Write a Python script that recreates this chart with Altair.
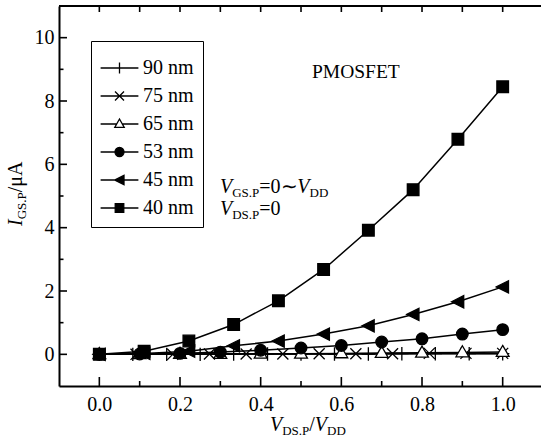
import altair as alt
import pandas as pd

# ---------------- data ----------------
series_names = ["90 nm", "75 nm", "65 nm", "53 nm", "45 nm", "40 nm"]

x_90 = [0, 0.083, 0.167, 0.25, 0.333, 0.417, 0.5, 0.583, 0.667, 0.75, 0.833, 0.917, 1.0]
y_90 = [0, 0, 0, 0, 0.01, 0.01, 0.01, 0.01, 0.01, 0.02, 0.02, 0.02, 0.02]

x_75 = [0, 0.091, 0.182, 0.273, 0.364, 0.455, 0.545, 0.636, 0.727, 0.818, 0.909, 1.0]
y_75 = [0, 0, 0, 0.01, 0.01, 0.01, 0.02, 0.02, 0.02, 0.03, 0.03, 0.03]

x_65 = [0, 0.1, 0.2, 0.3, 0.4, 0.5, 0.6, 0.7, 0.8, 0.9, 1.0]
y_65 = [0, 0, 0.01, 0.01, 0.02, 0.02, 0.03, 0.04, 0.05, 0.06, 0.07]

x_53 = [0, 0.1, 0.2, 0.3, 0.4, 0.5, 0.6, 0.7, 0.8, 0.9, 1.0]
y_53 = [0, 0.01, 0.03, 0.07, 0.13, 0.2, 0.28, 0.39, 0.49, 0.64, 0.78]

x_45 = [0, 0.111, 0.222, 0.333, 0.444, 0.556, 0.667, 0.778, 0.889, 1.0]
y_45 = [0, 0.03, 0.1, 0.27, 0.42, 0.64, 0.9, 1.26, 1.66, 2.13]

x_40 = [0, 0.111, 0.222, 0.333, 0.444, 0.556, 0.667, 0.778, 0.889, 1.0]
y_40 = [0, 0.1, 0.42, 0.94, 1.69, 2.68, 3.92, 5.2, 6.79, 8.45]

x_major = [0.0, 0.2, 0.4, 0.6, 0.8, 1.0]
x_minor = [0.1, 0.3, 0.5, 0.7, 0.9]
x_top = [0.0, 0.1, 0.2, 0.3, 0.4, 0.5, 0.6, 0.7, 0.8, 0.9, 1.0]
y_major = [0, 2, 4, 6, 8, 10]
y_minor = [1, 3, 5, 7, 9]

# ---------------- tables ----------------
rows = []
for name, xs, ys in zip(series_names,
                        [x_90, x_75, x_65, x_53, x_45, x_40],
                        [y_90, y_75, y_65, y_53, y_45, y_40]):
    for i, (xv, yv) in enumerate(zip(xs, ys)):
        rows.append({"series": name, "x": xv, "y": yv, "i": i})
df = pd.DataFrame(rows)

W, H = 482, 380
FONT = "'Liberation Serif', 'Times New Roman', Times, serif"

xscale = alt.Scale(domain=[-0.1, 1.095], nice=False, zero=False)
yscale = alt.Scale(domain=[-1, 11], nice=False, zero=False)

xaxis = alt.Axis(values=x_major, format=".1f", ticks=False, grid=False, title=None,
                 domainColor="black", domainWidth=2, labelFont=FONT, labelFontSize=20,
                 labelColor="black", labelPadding=8)
yaxis = alt.Axis(values=y_major, format="d", ticks=False, grid=False, title=None,
                 domainColor="black", domainWidth=2, labelFont=FONT, labelFontSize=20,
                 labelColor="black", labelPadding=5)

X = alt.X("x:Q", scale=xscale, axis=xaxis)
Y = alt.Y("y:Q", scale=yscale, axis=yaxis)

lines = alt.Chart(df).mark_line(color="black", strokeWidth=1.5).encode(
    x=X, y=Y, detail="series:N", order="i:Q")

marker_shapes = [
    "M-1.15,0H1.15M0,-1.15V1.15",
    "M-0.95,-0.95L0.95,0.95M-0.95,0.95L0.95,-0.95",
    "M0,-1.15L1.1,0.75L-1.1,0.75Z",
    "circle",
    "M-1.1,0L1,-1.05L1,1.05Z",
    "square",
]
fills = ["black", "black", "white", "black", "black", "black"]
strokes = ["black"] * 6

markers = alt.Chart(df).mark_point(filled=True, stroke="black", strokeWidth=1.3, size=135, opacity=1).encode(
    x=X, y=Y,
    shape=alt.Shape("series:N", scale=alt.Scale(domain=series_names, range=marker_shapes), legend=None),
    fill=alt.Fill("series:N", scale=alt.Scale(domain=series_names, range=fills), legend=None),
)

legend_paths = [
    "M-4.2,0H4.2M0,-1.2V1.2",
    "M-4.2,0H4.2M-1,-1L1,1M-1,1L1,-1",
    "M-4.2,0H-0.6M0.6,0H4.2M0,-1.1L1.05,0.75L-1.05,0.75Z",
    "M-4.2,0H4.2M1,0A1,1,0,1,1,-1,0A1,1,0,1,1,1,0Z",
    "M-4.2,0H4.2M-1.1,0L1,-1.05L1,1.05Z",
    "M-4.2,0H4.2M-0.95,-0.95H0.95V0.95H-0.95Z",
]

leg = alt.Legend(title=" ", titleFontSize=6, titlePadding=2, orient="none",
                 legendX=32, legendY=35, padding=9, strokeColor="black",
                 fillColor="white", labelFont=FONT, labelFontSize=20, labelColor="black",
                 symbolSize=81, symbolOffset=9.5, labelOffset=13.5, rowPadding=8,
                 symbolStrokeColor="black", symbolStrokeWidth=1.3, symbolOpacity=1)

legend_layer = alt.Chart(df).transform_filter("false").mark_point(
    filled=True, strokeWidth=1.3, size=81, opacity=1).encode(
    x=X, y=Y,
    shape=alt.Shape("series:N", scale=alt.Scale(domain=series_names, range=legend_paths), legend=leg),
    fill=alt.Fill("series:N", scale=alt.Scale(domain=series_names, range=fills), legend=leg),
    stroke=alt.Stroke("series:N", scale=alt.Scale(domain=series_names, range=strokes), legend=leg),
)

# ---------------- inward ticks and frame ----------------
def tick_layer(values, field, **enc):
    d = pd.DataFrame({field: values})
    if field == "x":
        e = dict(x=alt.X("x:Q", scale=xscale, axis=xaxis))
    else:
        e = dict(y=alt.Y("y:Q", scale=yscale, axis=yaxis))
    e.update(enc)
    return alt.Chart(d).mark_rule(color="black", strokeWidth=1.6).encode(**e)

ticks = [
    tick_layer(x_major, "x", y=alt.value(H), y2=alt.value(H - 9)),
    tick_layer(x_minor, "x", y=alt.value(H), y2=alt.value(H - 5)),
    tick_layer(x_top, "x", y=alt.value(0), y2=alt.value(6)),
    tick_layer(y_major, "y", x=alt.value(0), x2=alt.value(8)),
    tick_layer(y_minor, "y", x=alt.value(0), x2=alt.value(4.5)),
]
top_border = alt.Chart(pd.DataFrame({"a": [0]})).mark_rule(color="black", strokeWidth=2).encode(
    x=alt.value(0), x2=alt.value(W), y=alt.value(0))

# ---------------- text with sub-scripts ----------------
TW = {" ": 250, ".": 250, "/": 278, "=": 564, "∼": 838, "0": 500, "A": 722, "D": 722,
      "G": 722, "P": 556, "S": 556, "μ": 500, "I": 333, "V": 611}

def rich(pieces, x0, y0, angle=0):
    out = []
    cur = 0.0
    for text, size, italic, shift in pieces:
        w = sum(TW.get(c, 500) for c in text) * size / 1000.0
        if angle == 0:
            px, py = x0 + cur, y0 + shift
        else:
            px, py = x0 + shift, y0 - cur
        kw = dict(font=FONT, fontSize=size, color="black", align="left",
                  baseline="alphabetic", fontStyle="italic" if italic else "normal")
        if angle:
            kw["angle"] = angle
        out.append(alt.Chart(pd.DataFrame({"t": [text]})).mark_text(**kw).encode(
            x=alt.value(px), y=alt.value(py), text="t:N"))
        cur += w
    return out

M, S, SH = 20, 13, 4
xtitle = rich([("V", M, True, 0), ("DS.P", S, False, SH), ("/", M, False, 0),
               ("V", M, True, 0), ("DD", S, False, SH)], 211, 425)
ytitle = rich([("I", M, True, 0), ("GS.P", S, False, SH), ("/μA", M, False, 0)], -37, 220, angle=270)
ann1 = rich([("V", M, True, 0), ("GS.P", S, False, SH), ("=0∼", M, False, 0),
             ("V", M, True, 0), ("DD", S, False, SH)], 161, 187)
ann2 = rich([("V", M, True, 0), ("DS.P", S, False, SH), ("=0", M, False, 0)], 161, 209)
pm = alt.Chart(pd.DataFrame({"t": ["PMOSFET"]})).mark_text(
    font=FONT, fontSize=19.5, color="black", align="left", baseline="alphabetic").encode(
    x=alt.value(253), y=alt.value(72), text="t:N")

chart = alt.layer(
    lines, markers, legend_layer, *ticks, top_border, pm, *xtitle, *ytitle, *ann1, *ann2
).resolve_scale(shape="independent", fill="independent", stroke="independent").properties(
    width=W, height=H,
    autosize=alt.AutoSizeParams(type="none"),
    padding={"left": 59, "top": 6, "right": 0, "bottom": 59},
).configure_view(stroke=None).configure(background="white")

chart.save("out.html", embed_options={"renderer": "svg", "actions": False})
